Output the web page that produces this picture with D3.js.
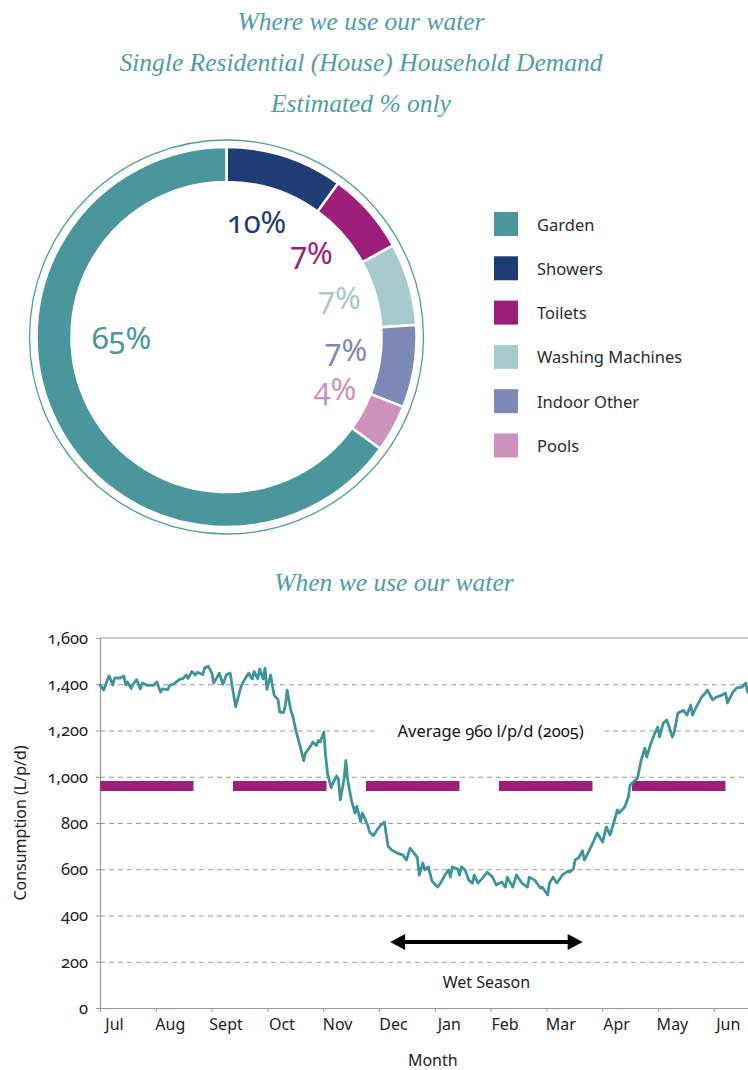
<!DOCTYPE html>
<html>
<head>
<meta charset="utf-8">
<script src="https://cdn.jsdelivr.net/npm/d3@7"></script>
<style>
  html, body { margin: 0; padding: 0; background: #fff; }
  svg { display: block; }
  svg text.sans, .sans text { font-family: "Noto Sans", "Open Sans", sans-serif; font-variant-numeric: oldstyle-nums; font-feature-settings: "onum" 1; }
  .title { font-family: "Liberation Serif", "DejaVu Serif", serif; font-style: italic; fill: #4f9da4; }
</style>
</head>
<body>
<script>
// ---- Household water use by category (%) ----
const usageCategories = ["Garden", "Showers", "Toilets", "Washing Machines", "Indoor Other", "Pools"];
const usagePercent    = [65, 10, 7, 7, 7, 4];
const usageColors     = ["#4a969c", "#1f3d75", "#9d1f7a", "#a7cacc", "#7d8ab6", "#cc92bc"];
// order of the segments round the ring, clockwise from the top
const ringOrder = ["Showers", "Toilets", "Washing Machines", "Indoor Other", "Pools", "Garden"];

// ---- Daily consumption through the year (L/p/d), day 0 = 1 July ----
const monthLabels = ["Jul", "Aug", "Sept", "Oct", "Nov", "Dec", "Jan", "Feb", "Mar", "Apr", "May", "Jun"];
const yTickValues = [0, 200, 400, 600, 800, 1000, 1200, 1400, 1600];
const dayOfYear = [
  0, 2, 4, 5, 7, 8, 11, 13, 14, 15, 17, 18, 20, 22, 23, 26, 27, 29, 31, 33,
  34, 37, 38, 40, 42, 44, 45, 47, 48, 50, 52, 53, 56, 57, 59, 61, 62, 64, 65, 67,
  69, 71, 72, 74, 75, 77, 79, 81, 83, 84, 86, 87, 89, 90, 91, 93, 94, 95, 97, 98,
  100, 101, 102, 104, 105, 107, 109, 111, 112, 115, 116, 118, 119, 120, 122, 123, 124, 126, 127, 129,
  130, 131, 133, 134, 135, 137, 139, 140, 142, 143, 146, 147, 149, 151, 153, 155, 157, 159, 162, 165,
  167, 169, 171, 173, 174, 176, 177, 179, 181, 184, 186, 188, 190, 191, 192, 195, 196, 197, 199, 201,
  203, 204, 206, 209, 211, 214, 216, 219, 221, 222, 225, 227, 230, 233, 234, 237, 240, 241, 244, 245,
  247, 249, 251, 252, 255, 256, 258, 259, 261, 263, 264, 266, 269, 271, 274, 276, 278, 280, 282, 283,
  286, 288, 289, 292, 293, 295, 297, 298, 300, 302, 304, 305, 307, 309, 312, 313, 315, 318, 320, 322,
  323, 325, 328, 330, 331, 334, 336, 339, 341, 342, 345, 347, 350, 352, 353
];
const consumption = [
  1397, 1375, 1418, 1436, 1397, 1427, 1427, 1436, 1397, 1410, 1382, 1400, 1420, 1380, 1405, 1395, 1395, 1395, 1410, 1366,
  1380, 1377, 1395, 1400, 1413, 1423, 1423, 1440, 1425, 1455, 1440, 1452, 1442, 1470, 1478, 1448, 1405, 1433, 1448, 1400,
  1442, 1448, 1393, 1303, 1335, 1393, 1423, 1448, 1423, 1456, 1423, 1465, 1423, 1470, 1378, 1440, 1393, 1350, 1335, 1280,
  1277, 1306, 1375, 1287, 1265, 1193, 1135, 1070, 1102, 1135, 1150, 1135, 1157, 1150, 1193, 1090, 1016, 952, 973, 1003,
  988, 900, 988, 1070, 988, 900, 843, 872, 806, 843, 790, 760, 745, 770, 790, 804, 700, 683, 670, 662,
  640, 690, 672, 650, 575, 627, 597, 610, 548, 523, 545, 575, 597, 566, 610, 601, 575, 610, 597, 553,
  540, 575, 540, 566, 588, 566, 532, 545, 523, 566, 523, 575, 540, 523, 566, 553, 519, 523, 489, 540,
  566, 540, 562, 575, 592, 588, 600, 640, 650, 680, 640, 670, 720, 757, 718, 783, 748, 800, 856, 843,
  869, 912, 964, 986, 995, 1072, 1124, 1085, 1137, 1180, 1215, 1172, 1232, 1245, 1172, 1193, 1275, 1288, 1267, 1310,
  1267, 1301, 1345, 1362, 1375, 1332, 1345, 1353, 1362, 1319, 1366, 1384, 1388, 1405, 1366
];
const averageUse = 960;          // l/p/d, 2005
const averageLabel = "Average 960 l/p/d (2005)";
const wetSeason = [5.2, 8.65];   // months after 1 July
const wetSeasonLevel = 285;      // height of the arrow on the consumption axis

const W = 748, H = 1070;
const svg = d3.select("body").append("svg").attr("width", W).attr("height", H);

// humanist sans with old-style figures
const sans = sel => sel
  .style("font-family", "\"Noto Sans\", \"Open Sans\", sans-serif")
  .style("font-variant-numeric", "oldstyle-nums")
  .style("font-feature-settings", "\"onum\" 1");

// ---------- Titles ----------
const titleLines = ["Where we use our water", "Single Residential (House) Household Demand", "Estimated % only"];
svg.append("g").selectAll("text").data(titleLines).join("text")
  .attr("class", "title")
  .attr("x", 361).attr("y", (d, i) => 30 + i * 41)
  .attr("text-anchor", "middle")
  .attr("font-size", 25.5)
  .text(d => d);

svg.append("text").attr("class", "title")
  .attr("x", 394).attr("y", 591)
  .attr("text-anchor", "middle").attr("font-size", 25.5)
  .text("When we use our water");

// ---------- Donut ----------
const colorOf = d3.scaleOrdinal().domain(usageCategories).range(usageColors);
const usage = ringOrder.map(name => ({ name, value: usagePercent[usageCategories.indexOf(name)] }));
const cx = 226.5, cy = 337, rIn = 155, rOut = 190;
const donut = svg.append("g").attr("transform", `translate(${cx},${cy})`);

donut.append("circle").attr("r", 197).attr("fill", "none")
  .attr("stroke", "#4f9da4").attr("stroke-width", 1.3);

const pie = d3.pie().sort(null).value(d => d.value);
const arc = d3.arc().innerRadius(rIn).outerRadius(rOut);
const arcs = pie(usage);
donut.selectAll("path").data(arcs).join("path")
  .attr("d", arc)
  .attr("fill", d => colorOf(d.data.name))
  .attr("stroke", "#fff").attr("stroke-width", 2.5).attr("stroke-linejoin", "miter");

const maxVal = d3.max(usage, d => d.value);
donut.selectAll("text.pct").data(arcs).join("text")
  .attr("class", "pct")
  .attr("transform", d => {
    let a, r;
    if (d.data.value === maxVal) { a = -Math.PI / 2; r = 105; }
    else { a = (d.startAngle + d.endAngle) / 2 - 3.5 * Math.PI / 180; r = 120; }
    return `translate(${r * Math.sin(a)},${-r * Math.cos(a)})`;
  })
  .attr("text-anchor", "middle").attr("dominant-baseline", "central")
  .attr("font-size", 31)
  .attr("fill", d => colorOf(d.data.name))
  .call(sans)
  .text(d => d.data.value + "%");

// ---------- Legend ----------
const legendRow = svg.append("g").selectAll("g").data(usageCategories).join("g")
  .attr("transform", (d, i) => `translate(494,${224 + i * 44.3})`);
legendRow.append("rect").attr("x", 0).attr("y", -12).attr("width", 24).attr("height", 24)
  .attr("fill", d => colorOf(d));
legendRow.append("text").attr("x", 43).attr("dominant-baseline", "central")
  .attr("font-size", 16.5).attr("fill", "#2b2b2b").call(sans).text(d => d);

// ---------- Consumption chart ----------
const plotLeft = 100, plotTop = 638, plotBottom = 1008, monthW = 55.8;
const xMonth = d3.scaleLinear().domain([0, 12]).range([plotLeft, plotLeft + 12 * monthW]);
const xDay = d3.scaleLinear().domain([0, 365]).range(xMonth.range());
const y = d3.scaleLinear().domain([0, 1600]).range([plotBottom, plotTop]);
const chart = svg.append("g");

// dashed horizontal gridlines
chart.append("g").attr("transform", `translate(${plotLeft},0)`)
  .call(d3.axisLeft(y).tickValues(yTickValues.filter(v => v > 0 && v < 1600)).tickSize(-(W - plotLeft)).tickFormat(""))
  .call(g => g.select(".domain").remove())
  .call(g => g.selectAll("line").attr("stroke", "#9a9a9a").attr("stroke-width", 1).attr("stroke-dasharray", "5,4"));

// frame: top border and left axis
chart.append("line").attr("x1", plotLeft).attr("x2", W).attr("y1", plotTop).attr("y2", plotTop)
  .attr("stroke", "#9a9a9a").attr("stroke-width", 1.2);

const yAxis = chart.append("g").attr("transform", `translate(${plotLeft},0)`)
  .call(d3.axisLeft(y).tickValues(yTickValues).tickSize(4).tickPadding(8).tickFormat(d3.format(",")));
yAxis.select(".domain").attr("stroke", "#9a9a9a").attr("stroke-width", 1.2);
yAxis.selectAll(".tick line").attr("stroke", "#9a9a9a");
yAxis.selectAll("text").attr("font-size", 16.5).attr("fill", "#222").call(sans);

// bottom axis with month boundaries
const xAxis = chart.append("g").attr("transform", `translate(0,${plotBottom})`)
  .call(d3.axisBottom(xMonth).tickValues(d3.range(0, 13)).tickSize(4).tickFormat(""));
xAxis.select(".domain").attr("stroke", "#9a9a9a").attr("stroke-width", 1.2);
xAxis.selectAll(".tick line").attr("stroke", "#9a9a9a");

const monthAxis = chart.append("g").attr("transform", `translate(0,${plotBottom})`)
  .call(d3.axisBottom(xMonth).tickValues(d3.range(12).map(i => i + 0.25)).tickSize(0).tickPadding(11)
    .tickFormat((d, i) => monthLabels[i]));
monthAxis.select(".domain").remove();
monthAxis.selectAll("text").attr("font-size", 16).attr("fill", "#222").call(sans);

// average demand as a thick dashed bar
chart.append("line")
  .attr("x1", xDay(0)).attr("x2", xDay(365))
  .attr("y1", y(averageUse)).attr("y2", y(averageUse))
  .attr("stroke", "#9d1f7a").attr("stroke-width", 10).attr("stroke-dasharray", "93.5,39.5");

// average label sitting on the 1,200 gridline
const avgX = xMonth(7), avgY = y(1200);
chart.append("rect").attr("x", avgX - 114).attr("y", avgY - 6).attr("width", 228).attr("height", 12).attr("fill", "#fff");
chart.append("text").attr("x", avgX).attr("y", avgY)
  .attr("text-anchor", "middle").attr("dominant-baseline", "central")
  .attr("font-size", 16.5).attr("fill", "#111").call(sans).text(averageLabel);

// daily consumption line
const series = dayOfYear.map((d, i) => ({ day: d, value: consumption[i] }));
chart.append("path").datum(series)
  .attr("fill", "none").attr("stroke", "#3f949b").attr("stroke-width", 2.8)
  .attr("stroke-linejoin", "round").attr("stroke-linecap", "round")
  .attr("d", d3.line().x(d => xDay(d.day)).y(d => y(d.value)));

// wet season double-headed arrow
const ax1 = xMonth(wetSeason[0]), ax2 = xMonth(wetSeason[1]), ay = y(wetSeasonLevel);
const headL = 15, headH = 8;
chart.append("line").attr("x1", ax1 + headL - 2).attr("x2", ax2 - headL + 2).attr("y1", ay).attr("y2", ay)
  .attr("stroke", "#000").attr("stroke-width", 4);
chart.append("path")
  .attr("d", `M${ax1},${ay} L${ax1 + headL},${ay - headH} L${ax1 + headL},${ay + headH} Z` +
             `M${ax2},${ay} L${ax2 - headL},${ay - headH} L${ax2 - headL},${ay + headH} Z`)
  .attr("fill", "#000");
chart.append("text").attr("x", (ax1 + ax2) / 2).attr("y", ay + 40)
  .attr("text-anchor", "middle").attr("dominant-baseline", "central")
  .attr("font-size", 16).attr("fill", "#222").call(sans).text("Wet Season");

// axis titles
chart.append("text")
  .attr("transform", `translate(20,${(plotTop + plotBottom) / 2}) rotate(-90)`)
  .attr("text-anchor", "middle").attr("dominant-baseline", "central")
  .attr("font-size", 16).attr("fill", "#222").call(sans).text("Consumption (L/p/d)");
chart.append("text").attr("x", (plotLeft + xMonth(12)) / 2 - 2).attr("y", 1060)
  .attr("text-anchor", "middle").attr("dominant-baseline", "central")
  .attr("font-size", 16).attr("fill", "#222").call(sans).text("Month");
</script>
</body>
</html>
